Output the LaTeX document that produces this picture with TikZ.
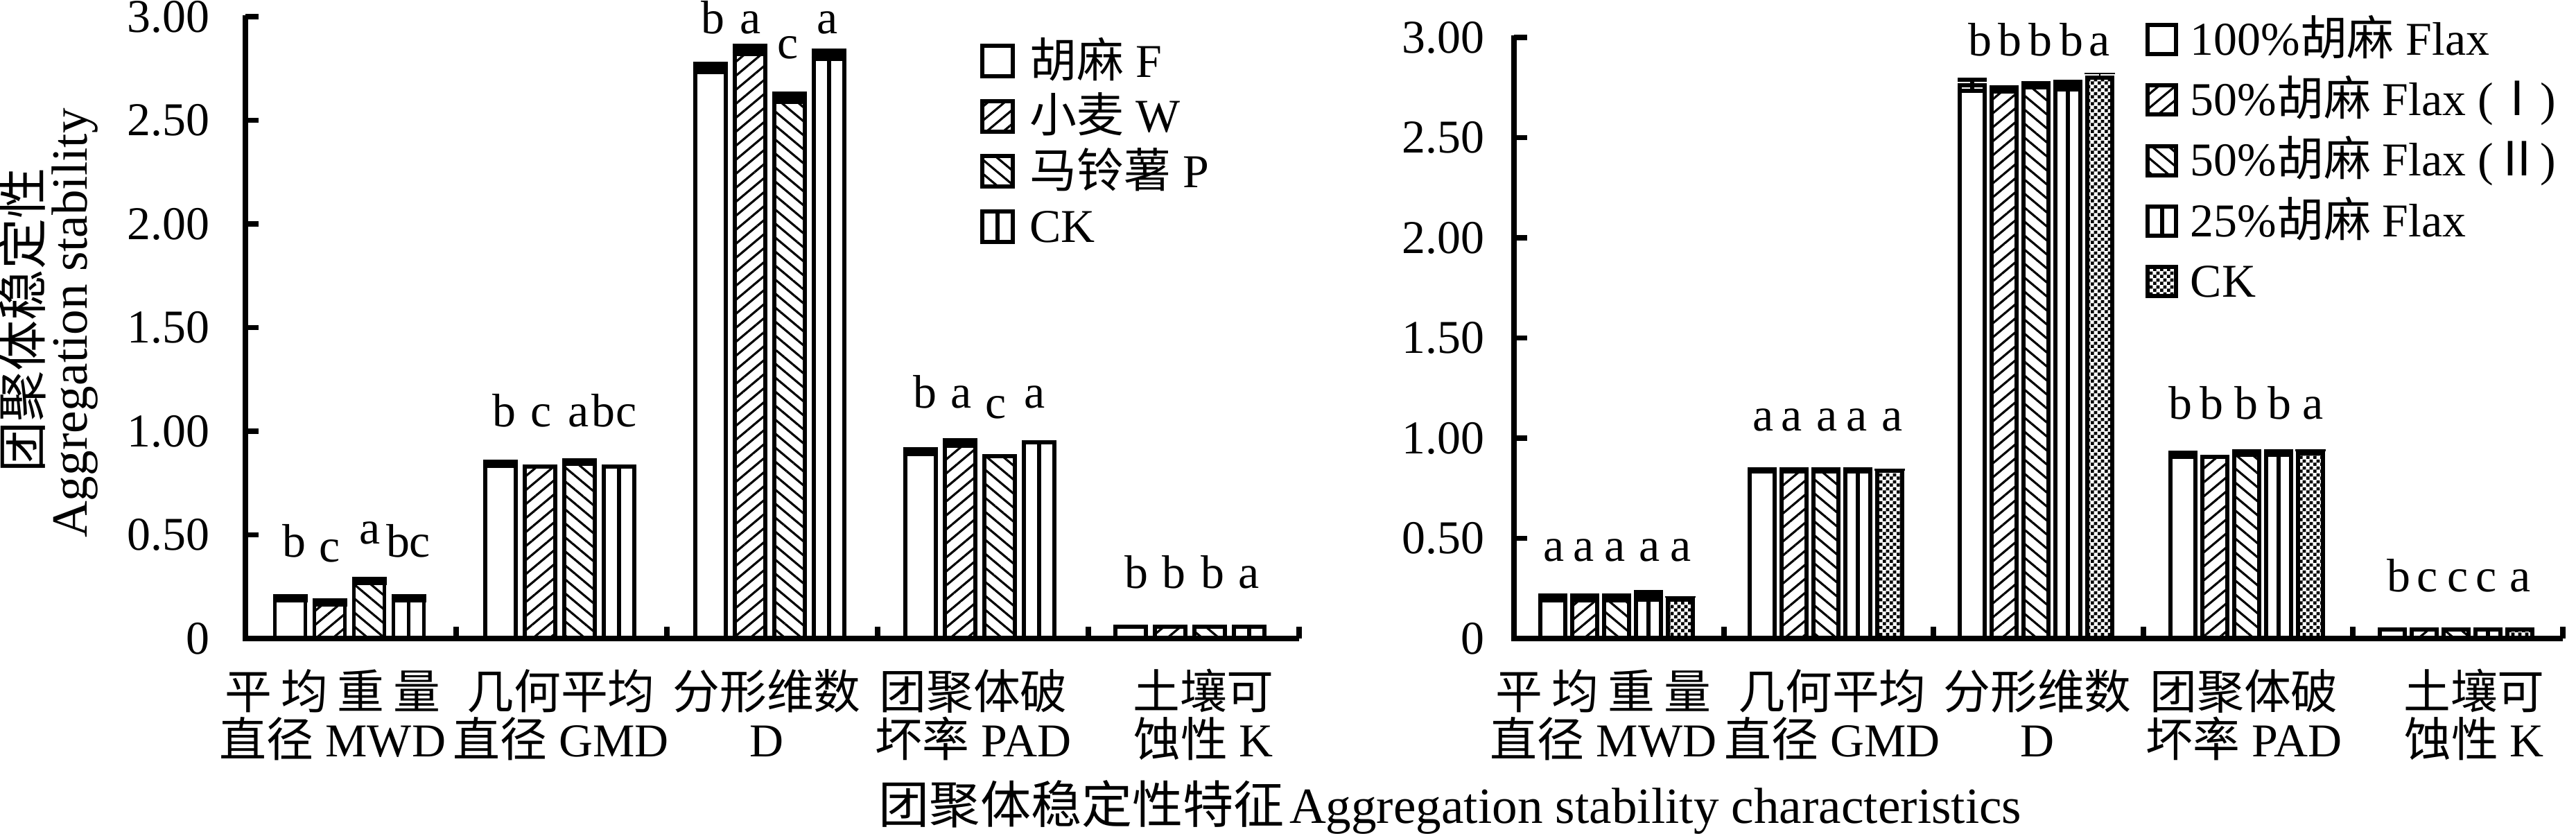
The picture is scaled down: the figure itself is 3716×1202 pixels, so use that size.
\documentclass[tikz,border=0pt]{standalone}
\usepackage{fontspec}
\setmainfont{Liberation Serif}
\newfontfamily\cjk{Noto Sans CJK SC}
\usetikzlibrary{patterns,patterns.meta}
\pgfdeclarepatternformonly{checker}{\pgfqpoint{0pt}{0pt}}{\pgfqpoint{2.85pt}{2.85pt}}{\pgfqpoint{2.85pt}{2.85pt}}{%
  \pgfpathrectangle{\pgfqpoint{0pt}{0pt}}{\pgfqpoint{1.425pt}{1.425pt}}%
  \pgfpathrectangle{\pgfqpoint{1.425pt}{1.425pt}}{\pgfqpoint{1.425pt}{1.425pt}}%
  \pgfusepath{fill}}
\tikzset{
  axisline/.style={line width=2.1pt},
  barbox/.style={line width=1.7pt, draw=black},
  patF/.style={fill=white},
  patW/.style={pattern={Lines[angle=40,distance=4.4pt,line width=0.9pt]}},
  patP/.style={pattern={Lines[angle=-40,distance=4.4pt,line width=0.9pt]}},
  patV/.style={path picture={\draw[line width=1.7pt] (path picture bounding box.north) -- (path picture bounding box.south);}},
  patC/.style={pattern=checker},
  err/.style={line width=1.7pt},
  errthin/.style={line width=0.7pt},
  lab/.style={font=\fontsize{19.3}{23}\selectfont, inner sep=0pt},
  ttl/.style={font=\fontsize{20.8}{25}\selectfont, inner sep=0pt},
}
\begin{document}
\begin{tikzpicture}[x=0.01cm,y=-0.01cm]
\useasboundingbox (0,0) rectangle (3716,1202);

% ================= LEFT CHART =================
\foreach \x/\v/\s in {
  418.5/0.194/patF, 475.5/0.174/patW, 532.5/0.278/patP, 589.5/0.194/patV,
  721.5/0.843/patF, 778.5/0.830/patW, 835.5/0.850/patP, 892.5/0.830/patV,
  1024.5/2.753/patF, 1081.5/2.841/patW, 1138.5/2.610/patP, 1195.5/2.816/patV,
  1327.5/0.901/patF, 1384.5/0.943/patW, 1441.5/0.880/patP, 1498.5/0.946/patV,
  1630.5/0.057/patF, 1687.5/0.057/patW, 1744.5/0.057/patP, 1801.5/0.057/patV}
  \draw[barbox,\s] ({\x-22},921) rectangle ({\x+22},{921-299*\v});
\foreach \x/\v/\e in {
  418.5/0.194/0.01, 475.5/0.174/0.01, 532.5/0.278/0.01, 589.5/0.194/0.01,
  721.5/0.843/0.01, 835.5/0.850/0.008,
  1024.5/2.753/0.02, 1081.5/2.841/0.02, 1138.5/2.610/0.02, 1195.5/2.816/0.02,
  1327.5/0.901/0.012, 1384.5/0.943/0.012}
  \draw[err] ({\x-25},{921-299*(\v+\e)}) -- ({\x+25},{921-299*(\v+\e)})
             (\x,{921-299*(\v+\e)}) -- (\x,{921-299*(\v-\e)})
             ({\x-25},{921-299*(\v-\e)}) -- ({\x+25},{921-299*(\v-\e)});
% axes
\draw[axisline] (354,22) -- (354,921) -- (1874,921);
\foreach \v in {0.5,1,1.5,2,2.5,3}
  \draw[axisline] (354,{921-299*\v}) -- (373,{921-299*\v});
\foreach \x in {658,962,1266,1570,1874}
  \draw[axisline] (\x,921) -- (\x,904);
\foreach \v [count=\i] in {0,0.50,1.00,1.50,2.00,2.50,3.00}
  \node[lab,anchor=east] (tl\i) at (303,{921-299*\v}) {\v};
% significance letters
\foreach \x/\y/\t [count=\i] in {
  424/803/b, 476/810/c, 534/784/a, 574/803/b, 606/803/c,
  727/615/b, 781/615/c, 835/615/a, 870/615/b, 904/615/c,
  1028/48/b, 1083/48/a, 1137/84/c, 1194/48/a,
  1334/588/b, 1387/588/a, 1437/603/c, 1493/588/a,
  1639/848/b, 1693/848/b, 1749/848/b, 1802/848/a}
  \node[lab,anchor=base] (sl\i) at (\x,\y) {\t};
% legend
\foreach \c/\s/\t [count=\i] in {
  88/patF/{{\cjk 胡麻} F}, 167.5/patW/{{\cjk 小麦} W},
  247/patP/{{\cjk 马铃薯} P}, 326.5/patV/{CK}}{
  \draw[barbox,\s] (1417,{\c-22}) rectangle (1461,{\c+22});
  \node[lab,anchor=base west] (lgl\i) at (1485,{\c+23}) {\t};
}
% category labels
\node[lab,anchor=base] (cl1a) at (480,1022) {\makebox[3.1cm][s]{\cjk 平\hfill 均\hfill 重\hfill 量}};
\node[lab,anchor=base] (cl1b) at (480,1091) {{\cjk 直径} MWD};
\node[lab,anchor=base] (cl2a) at (809,1022) {\cjk 几何平均};
\node[lab,anchor=base] (cl2b) at (809,1091) {{\cjk 直径} GMD};
\node[lab,anchor=base] (cl3a) at (1106,1022) {\cjk 分形维数};
\node[lab,anchor=base] (cl3b) at (1106,1091) {D};
\node[lab,anchor=base] (cl4a) at (1404,1022) {\cjk 团聚体破};
\node[lab,anchor=base] (cl4b) at (1404,1091) {{\cjk 坏率} PAD};
\node[lab,anchor=base] (cl5a) at (1736,1022) {\cjk 土壤可};
\node[lab,anchor=base] (cl5b) at (1736,1091) {{\cjk 蚀性} K};

% y title
\node[ttl,rotate=90] (yt1) at (32,462) {\cjk 团聚体稳定性};
\node[ttl,rotate=90] (yt2) at (108,466) {Aggregation stability};

% ================= RIGHT CHART =================
\foreach \x/\v/\s in {
  2240/0.204/patF, 2286/0.204/patW, 2332/0.204/patP, 2378/0.213/patV, 2424/0.194/patC,
  2542/0.840/patF, 2588/0.840/patW, 2634/0.840/patP, 2680/0.840/patV, 2726/0.837/patC,
  2845/2.761/patF, 2891/2.740/patW, 2937/2.761/patP, 2983/2.760/patV, 3029/2.800/patC,
  3149/0.917/patF, 3195/0.905/patW, 3241/0.925/patP, 3287/0.925/patV, 3333/0.925/patC,
  3451/0.045/patF, 3497/0.045/patW, 3543/0.045/patP, 3589/0.045/patV, 3635/0.045/patC}
  \draw[barbox,\s] ({\x-18},921) rectangle ({\x+18},{921-289*\v});
\foreach \x/\v/\e in {
  2240/0.204/0.012, 2286/0.204/0.012, 2332/0.204/0.012, 2378/0.213/0.02,
  2542/0.840/0.005, 2588/0.840/0.005, 2634/0.840/0.005, 2680/0.840/0.005,
  2845/2.761/0.027, 2891/2.740/0.01, 2937/2.761/0.01, 2983/2.760/0.02,
  3149/0.917/0.01, 3241/0.925/0.008, 3287/0.925/0.008}
  \draw[err] ({\x-21},{921-289*(\v+\e)}) -- ({\x+21},{921-289*(\v+\e)})
             (\x,{921-289*(\v+\e)}) -- (\x,{921-289*(\v-\e)})
             ({\x-21},{921-289*(\v-\e)}) -- ({\x+21},{921-289*(\v-\e)});
\foreach \x/\v/\e in {2424/0.194/0.014, 2726/0.837/0.006, 3029/2.800/0.02, 3333/0.925/0.015}
  \draw[errthin] ({\x-22},{921-289*(\v+\e)}) -- ({\x+22},{921-289*(\v+\e)})
                 (\x,{921-289*(\v+\e)}) -- (\x,{921-289*\v});
% axes
\draw[axisline] (2184,51) -- (2184,921) -- (3697,921);
\foreach \v in {0.5,1,1.5,2,2.5,3}
  \draw[axisline] (2184,{921-289*\v}) -- (2203,{921-289*\v});
\foreach \x in {2487,2789,3092,3394,3697}
  \draw[axisline] (\x,921) -- (\x,904);
\foreach \v [count=\i] in {0,0.50,1.00,1.50,2.00,2.50,3.00}
  \node[lab,anchor=east] (tr\i) at (2142,{921-289*\v}) {\v};
% letters
\foreach \x/\y/\t [count=\i] in {
  2242/809/a, 2285/809/a, 2330/809/a, 2380/809/a, 2425/809/a,
  2544/621/a, 2585/621/a, 2636/621/a, 2679/621/a, 2730/621/a,
  2856/80/b, 2899/80/b, 2943/80/b, 2988/80/b, 3029/80/a,
  3145/604/b, 3190/604/b, 3240/604/b, 3288/604/b, 3337/604/a,
  3460/853/b, 3502/853/c, 3546/853/c, 3587/853/c, 3636/853/a}
  \node[lab,anchor=base] (sr\i) at (\x,\y) {\t};
% legend
\foreach \c/\s/\t [count=\i] in {
  57/patF/{100\%{\cjk 胡麻} Flax},
  144/patW/{50\%{\cjk 胡麻} Flax ({\cjk Ⅰ})},
  231.5/patP/{50\%{\cjk 胡麻} Flax ({\cjk Ⅱ})},
  319/patV/{25\%{\cjk 胡麻} Flax},
  406/patC/{CK}}{
  \draw[barbox,\s] (3098,{\c-21}) rectangle (3139,{\c+21});
  \node[lab,anchor=base west] (lgr\i) at (3159,{\c+22}) {\t};
}
% category labels
\node[lab,anchor=base] (cr1a) at (2313,1022) {\makebox[3.1cm][s]{\cjk 平\hfill 均\hfill 重\hfill 量}};
\node[lab,anchor=base] (cr1b) at (2313,1091) {{\cjk 直径} MWD};
\node[lab,anchor=base] (cr2a) at (2643,1022) {\cjk 几何平均};
\node[lab,anchor=base] (cr2b) at (2643,1091) {{\cjk 直径} GMD};
\node[lab,anchor=base] (cr3a) at (2939,1022) {\cjk 分形维数};
\node[lab,anchor=base] (cr3b) at (2939,1091) {D};
\node[lab,anchor=base] (cr4a) at (3237,1022) {\cjk 团聚体破};
\node[lab,anchor=base] (cr4b) at (3237,1091) {{\cjk 坏率} PAD};
\node[lab,anchor=base] (cr5a) at (3569,1022) {\cjk 土壤可};
\node[lab,anchor=base] (cr5b) at (3569,1091) {{\cjk 蚀性} K};

% x title
\node[ttl,anchor=base] (xt) at (2092,1187) {{\cjk 团聚体稳定性特征}\hspace{0.07cm}Aggregation stability characteristics};
\end{tikzpicture}
\end{document}
